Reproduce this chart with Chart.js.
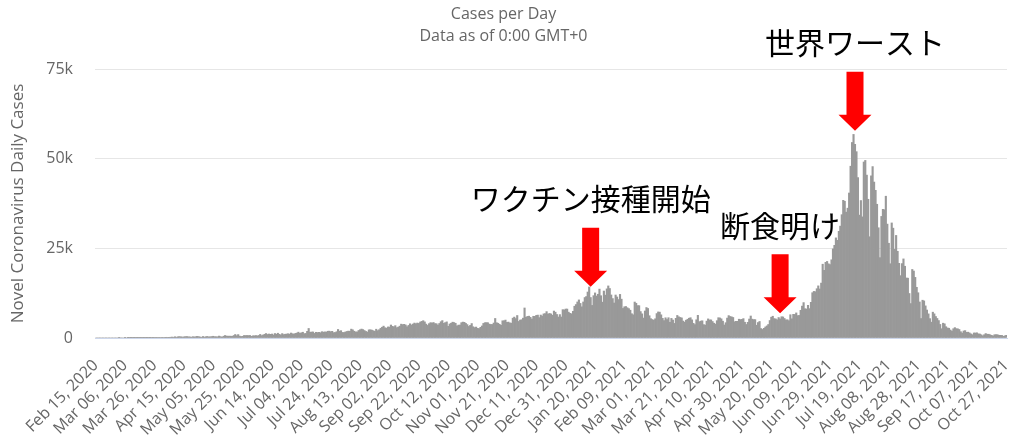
<!DOCTYPE html>
<html>
<head>
<meta charset="utf-8">
<title>Cases per Day</title>
<script src="https://cdn.jsdelivr.net/npm/chart.js@4.4.1/dist/chart.umd.min.js"></script>
<style>
  html, body { margin: 0; padding: 0; background: #fff; }
</style>
</head>
<body>
<canvas id="chartCases" width="1009" height="435"></canvas>
<script>
// daily new cases, one array per month (first day: Feb 15, 2020)
var feb20 = [0, 0, 0, 0, 0, 0, 0, 0, 0, 0, 0, 0, 0, 0, 0];
var mar20 = [0, 2, 0, 0, 0, 2, 0, 2, 13, 8, 7, 2, 35, 27, 21, 17, 38, 55, 82, 60, 81, 64, 65, 107, 104, 103, 153, 109, 130, 129, 114];
var apr20 = [149, 113, 196, 106, 181, 218, 247, 218, 337, 219, 330, 399, 316, 282, 297, 380, 407, 325, 327, 185, 375, 283, 357, 436, 396, 275, 214, 415, 260, 347];
var may20 = [433, 292, 349, 395, 484, 367, 338, 336, 533, 387, 233, 484, 689, 568, 490, 529, 496, 486, 693, 973, 634, 949, 526, 415, 479, 687, 686, 687, 678, 700, 467];
var jun20 = [609, 609, 684, 585, 703, 993, 672, 847, 1043, 1241, 979, 1111, 1017, 1106, 857, 1248, 1031, 1331, 1041, 862, 1226, 954, 1051, 1113, 1178, 1082, 1385, 1198, 1082, 1293];
var jul20 = [1385, 1624, 1301, 1447, 1607, 1209, 1268, 1853, 2657, 1611, 1671, 1681, 1282, 1591, 1522, 1574, 1462, 1752, 1639, 1693, 1655, 1882, 1906, 1761, 1868, 1492, 1525, 1748, 2381, 1904, 2040];
var aug20 = [1560, 1519, 1679, 1815, 1922, 1882, 2473, 2277, 1893, 1687, 1693, 2098, 2307, 2490, 2345, 2081, 1821, 1673, 2266, 2307, 2197, 2037, 1877, 2447, 2060, 2306, 2719, 3003, 3308, 2858, 2743];
var sep20 = [3075, 3045, 3622, 3269, 3128, 3444, 2880, 3046, 3307, 3861, 3737, 3806, 3636, 3141, 3507, 3963, 3635, 3891, 4168, 3989, 4176, 4071, 4465, 4634, 4823, 4494, 3874, 3509, 4002, 4284];
var oct20 = [4174, 4317, 4007, 3992, 3622, 4056, 4538, 4850, 4094, 4294, 4497, 3267, 3906, 4127, 4411, 4301, 4105, 3373, 3602, 3602, 4267, 4432, 4369, 4070, 3732, 3222, 3520, 4029, 3143, 2897, 3048];
var nov20 = [2696, 2618, 2973, 3356, 4065, 4262, 4301, 4262, 3880, 3779, 3770, 4173, 5444, 4262, 4106, 3807, 3535, 4798, 4792, 4998, 4360, 4442, 4192, 4150, 5534, 5828, 5418, 6267, 4617, 4998];
var dec20 = [5092, 5533, 8369, 5803, 6027, 6089, 5754, 5292, 6058, 6033, 6310, 6388, 5681, 6399, 6120, 6725, 6793, 7354, 6689, 6848, 6717, 6347, 7514, 7199, 6555, 5854, 6528, 5850, 7903, 7820, 8074];
var jan21 = [8072, 7203, 6877, 6753, 7445, 8854, 9321, 10046, 10617, 9640, 8692, 10047, 11278, 11557, 12818, 14224, 11287, 9086, 11802, 12568, 11703, 12191, 13632, 11788, 9994, 13094, 11948, 13695, 14518, 13802, 12001];
var feb21 = [10994, 9762, 11984, 11434, 10724, 12156, 10827, 8242, 8700, 8776, 8435, 8189, 7750, 6765, 6462, 10029, 9687, 9039, 9016, 7369, 6733, 5560, 7533, 8493, 8232, 6208, 5385, 5148];
var mar21 = [4964, 5359, 6808, 7264, 7208, 6463, 5475, 4851, 5633, 5144, 5654, 4396, 5465, 5008, 4071, 5489, 6285, 5913, 5730, 5600, 4726, 4408, 4966, 5227, 5513, 5656, 5060, 4082, 3735, 5080, 6313];
var apr21 = [4549, 4712, 4805, 3731, 3597, 4714, 5325, 5041, 5044, 4592, 4127, 3865, 4829, 5656, 5588, 5346, 4693, 3625, 4266, 5549, 6243, 6000, 5895, 5720, 4537, 4652, 4656, 5241, 5143, 5189];
var may21 = [5403, 4394, 3770, 4369, 5285, 6130, 5258, 5128, 5122, 3554, 4310, 4608, 2633, 2385, 2699, 3080, 3369, 3766, 4871, 5797, 6071, 5410, 5321, 5070, 5705, 5313, 5930, 5862, 5440, 5031, 5090];
var jun21 = [4824, 6486, 5353, 6594, 6565, 6993, 6242, 6294, 7725, 8892, 9868, 8161, 8083, 9106, 8189, 9944, 12624, 12990, 12906, 13737, 14536, 13668, 15308, 20574, 18872, 21095, 21342, 20694, 20467, 21807];
var jul21 = [24836, 25830, 27913, 27233, 29745, 31189, 34379, 38391, 38124, 35094, 36197, 40427, 47899, 54517, 56757, 54000, 51952, 44721, 34257, 38325, 33772, 49071, 49509, 45416, 38679, 28228, 45203, 47791, 43479, 41168, 37284];
var aug21 = [30738, 22404, 33900, 35867, 35764, 39532, 31753, 26415, 20709, 32081, 30625, 24709, 28598, 24175, 20813, 17384, 20741, 22053, 20004, 16744, 16679, 12408, 9604, 19106, 18671, 16899, 14138, 12618, 10050, 5436, 10534];
var sep21 = [10337, 8955, 7797, 6727, 5403, 4413, 7201, 6731, 5990, 5444, 4864, 3779, 2577, 4128, 3948, 3145, 2798, 2720, 2234, 1932, 2588, 2889, 2608, 2557, 2368, 1760, 1390, 1954, 2057, 1586];
var oct21 = [1624, 1414, 1142, 922, 1404, 1393, 1447, 1167, 1111, 894, 620, 915, 1233, 1053, 1050, 904, 747, 578, 914, 926, 928, 760, 748, 733, 460, 610, 732];

var dailyCases = [].concat(feb20, mar20, apr20, may20, jun20, jul20, aug20, sep20, oct20, nov20, dec20,
	jan21, feb21, mar21, apr21, may21, jun21, jul21, aug21, sep21, oct21);

var yTicks = [0, 25000, 50000, 75000];
var tickEvery = 20;

// notes with red arrows
var noteTexts = ['ワクチン接種開始', '断食明け', '世界ワースト'];
var noteDates = ['Jan 17, 2021', 'May 26, 2021', 'Jul 16, 2021'];
var noteValues = [14300, 6900, 57800];

var monthNames = ['Jan', 'Feb', 'Mar', 'Apr', 'May', 'Jun', 'Jul', 'Aug', 'Sep', 'Oct', 'Nov', 'Dec'];
var firstDay = Date.UTC(2020, 1, 15);
var labels = dailyCases.map(function (v, i) {
	var d = new Date(firstDay + i * 86400000);
	var dd = d.getUTCDate() < 10 ? '0' + d.getUTCDate() : d.getUTCDate();
	return monthNames[d.getUTCMonth()] + ' ' + dd + ', ' + d.getUTCFullYear();
});

var arrowNotes = {
	id: 'arrowNotes',
	afterDatasetsDraw: function (chart) {
		var ctx = chart.ctx;
		var xs = chart.scales.x;
		var ys = chart.scales.y;
		noteTexts.forEach(function (text, i) {
			var x = xs.getPixelForValue(labels.indexOf(noteDates[i]));
			var tip = ys.getPixelForValue(noteValues[i]);
			var top = tip - 59;
			ctx.save();
			ctx.fillStyle = '#ff0000';
			ctx.beginPath();
			ctx.moveTo(x - 8.5, top);
			ctx.lineTo(x + 8.5, top);
			ctx.lineTo(x + 8.5, tip - 16);
			ctx.lineTo(x + 16.5, tip - 16);
			ctx.lineTo(x, tip);
			ctx.lineTo(x - 16.5, tip - 16);
			ctx.lineTo(x - 8.5, tip - 16);
			ctx.closePath();
			ctx.fill();
			ctx.fillStyle = '#000';
			ctx.font = '30px "Noto Sans CJK JP"';
			ctx.textAlign = 'center';
			ctx.textBaseline = 'middle';
			ctx.fillText(text, x, top - 29);
			ctx.restore();
		});
	}
};

var font = 'Open Sans';
var cc = document.getElementById('chartCases');
var chartCases = new Chart(cc, {
	type: 'bar',
	data: {
		labels: labels,
		datasets: [{
			data: dailyCases,
			backgroundColor: '#999999',
			borderWidth: 0,
			barPercentage: 1,
			categoryPercentage: 1
		}]
	},
	options: {
		responsive: false,
		animation: false,
		layout: { padding: { left: 0, right: 2, top: 0, bottom: 0 } },
		plugins: {
			legend: { display: false },
			tooltip: { enabled: false },
			title: {
				display: true,
				text: 'Cases per Day',
				color: '#666666',
				font: { family: font, size: 16, weight: 'normal' },
				padding: { top: 5, bottom: 1 }
			},
			subtitle: {
				display: true,
				text: 'Data as of 0:00 GMT+0',
				color: '#666666',
				font: { family: font, size: 16, weight: 'normal' },
				padding: { top: 2, bottom: 22.6 }
			}
		},
		scales: {
			x: {
				grid: { display: false, drawTicks: false },
				border: { color: '#ccd6eb', width: 1 },
				ticks: {
					autoSkip: false,
					minRotation: 45,
					maxRotation: 45,
					padding: 18,
					color: '#666666',
					font: { family: font, size: 16 },
					callback: function (v, i) { return i % tickEvery === 0 ? labels[i] : null; }
				},
				afterFit: function (s) {
					s.height = 97;
					s.paddingLeft = 0;
					s.paddingRight = 0;
				}
			},
			y: {
				min: 0,
				max: 75000,
				afterBuildTicks: function (s) { s.ticks = yTicks.map(function (v) { return { value: v }; }); },
				grid: { color: '#e6e6e6', drawTicks: false },
				border: { display: false },
				ticks: {
					padding: 22,
					color: '#666666',
					font: { family: font, size: 16 },
					callback: function (v) { return v === 0 ? '0' : (v / 1000) + 'k'; }
				},
				title: {
					display: true,
					text: 'Novel Coronavirus Daily Cases',
					color: '#666666',
					font: { family: font, size: 17 },
					padding: { top: 8, bottom: 0 }
				},
				afterFit: function (s) { s.width = 95; }
			}
		}
	},
	plugins: [arrowNotes]
});
</script>
</body>
</html>
